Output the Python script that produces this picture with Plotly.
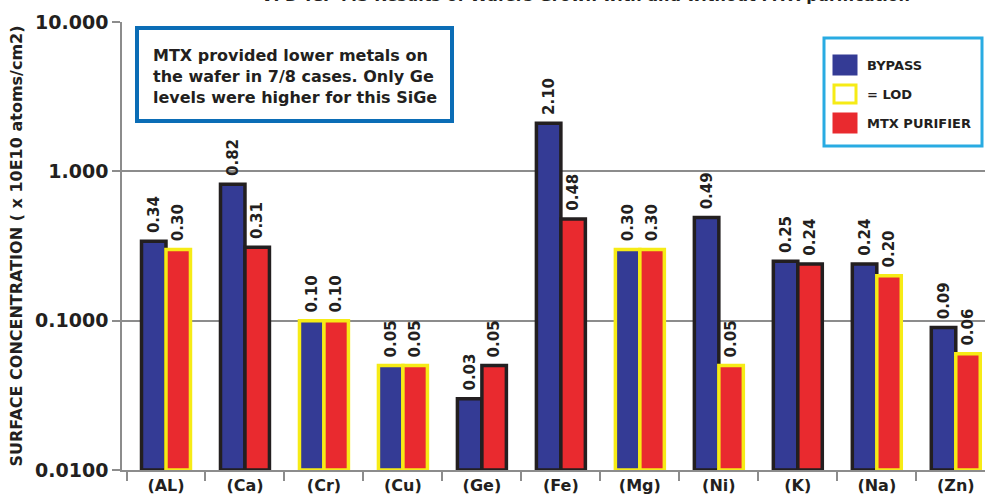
import plotly.graph_objects as go

categories = ["(AL)", "(Ca)", "(Cr)", "(Cu)", "(Ge)", "(Fe)", "(Mg)", "(Ni)", "(K)", "(Na)", "(Zn)"]
bypass = [0.34, 0.82, 0.10, 0.05, 0.03, 2.10, 0.30, 0.49, 0.25, 0.24, 0.09]
mtx = [0.30, 0.31, 0.10, 0.05, 0.05, 0.48, 0.30, 0.05, 0.24, 0.20, 0.06]
bypass_lod = [False, False, True, True, False, False, True, False, False, False, False]
mtx_lod = [True, False, True, True, False, False, True, True, False, True, True]
y_tickvals = [0.01, 0.1, 1, 10]
y_ticktext = ["0.0100", "0.1000", "1.000", "10.000"]

BLUE = "#343b95"
RED = "#e92a2f"
YELLOW = "#f6eb16"
BLACK = "#231f20"
GRAY = "#8c8c8c"
FONT = "DejaVu Sans"

W, H = 985, 501
L, R, T, B = 122, 0, 22, 31
PW, PH = W - L - R, H - T - B


def px(x):
    return (x - L) / PW


def py(y):
    return (H - B - y) / PH


fig = go.Figure()
for name, vals, lod, col in [("BYPASS", bypass, bypass_lod, BLUE), ("MTX PURIFIER", mtx, mtx_lod, RED)]:
    fig.add_trace(go.Bar(
        x=categories, y=[v - 0.01 for v in vals], base=0.01, name=name,
        marker=dict(color=col, line=dict(color=[YELLOW if f else BLACK for f in lod], width=3.5)),
        text=["\u00a0" + f"{v:.2f}" for v in vals], textposition="outside", textangle=-90,
        constraintext="none",
        textfont=dict(family=FONT, size=15, color=BLACK, weight=700),
        cliponaxis=False, showlegend=False, hoverinfo="skip",
    ))

fig.update_layout(
    width=W, height=H, margin=dict(l=L, r=R, t=T, b=B),
    paper_bgcolor="white", plot_bgcolor="white",
    barmode="group", bargap=0.38, bargroupgap=0,
    xaxis=dict(range=[-0.557, 10.37], showline=True, linecolor=GRAY, linewidth=1.5,
               ticks="outside", tickson="boundaries", ticklen=9, tickcolor=GRAY, tickwidth=1.5,
               tickfont=dict(family=FONT, size=16, color=BLACK, weight=700), showgrid=False),
    yaxis=dict(type="log", range=[-2, 1], tickvals=y_tickvals, ticktext=y_ticktext,
               showline=True, linecolor=GRAY, linewidth=1.5, ticks="outside", ticklen=8,
               tickcolor=GRAY, tickwidth=1.5, showgrid=True, gridcolor=GRAY, gridwidth=1.5,
               tickfont=dict(family=FONT, size=19, color=BLACK, weight=700),
               title=dict(text="SURFACE CONCENTRATION ( x 10E10 atoms/cm2)", standoff=9,
                          font=dict(family=FONT, size=16, color=BLACK, weight=700))),
    showlegend=False,
)

shapes = []
annotations = []
# note box
shapes.append(dict(type="rect", xref="paper", yref="paper", x0=px(137), x1=px(452), y0=py(121), y1=py(28),
                   line=dict(color="#0b6db6", width=4), fillcolor="white", layer="above"))
annotations.append(dict(xref="paper", yref="paper", x=px(151), y=py(76), xanchor="left", yanchor="middle",
                        align="left", showarrow=False,
                        text="MTX provided lower metals on<br>the wafer in 7/8 cases. Only Ge<br>levels were higher for this SiGe",
                        font=dict(family=FONT, size=16, color=BLACK, weight=700)))
# legend box
shapes.append(dict(type="rect", xref="paper", yref="paper", x0=px(824), x1=px(982), y0=py(146), y1=py(38),
                   line=dict(color="#29abe2", width=3), fillcolor="white", layer="above"))
legend_items = [("BYPASS", BLUE, BLUE, 65), ("= LOD", "white", YELLOW, 94), ("MTX PURIFIER", RED, RED, 123)]
for label, fill, line, yc in legend_items:
    shapes.append(dict(type="rect", xref="paper", yref="paper", x0=px(834), x1=px(856), y0=py(yc + 9), y1=py(yc - 9),
                       line=dict(color=line, width=3), fillcolor=fill, layer="above"))
    annotations.append(dict(xref="paper", yref="paper", x=px(865), y=py(yc), xanchor="left", yanchor="middle",
                            showarrow=False, text=label,
                            font=dict(family=FONT, size=13, color=BLACK, weight=700)))
# partially visible title (cropped at top of image)
annotations.append(dict(xref="paper", yref="paper", x=px(585), y=py(7), xanchor="center", yanchor="bottom",
                        showarrow=False, text="VPD-ICP-MS Results of Wafers Grown with and without MTX purification",
                        font=dict(family=FONT, size=16, color=BLACK, weight=700)))

fig.update_layout(shapes=shapes, annotations=annotations)
fig.write_html("out.html", config={"displayModeBar": False},
               post_script="document.body.style.margin='0';document.body.style.overflow='hidden';")
